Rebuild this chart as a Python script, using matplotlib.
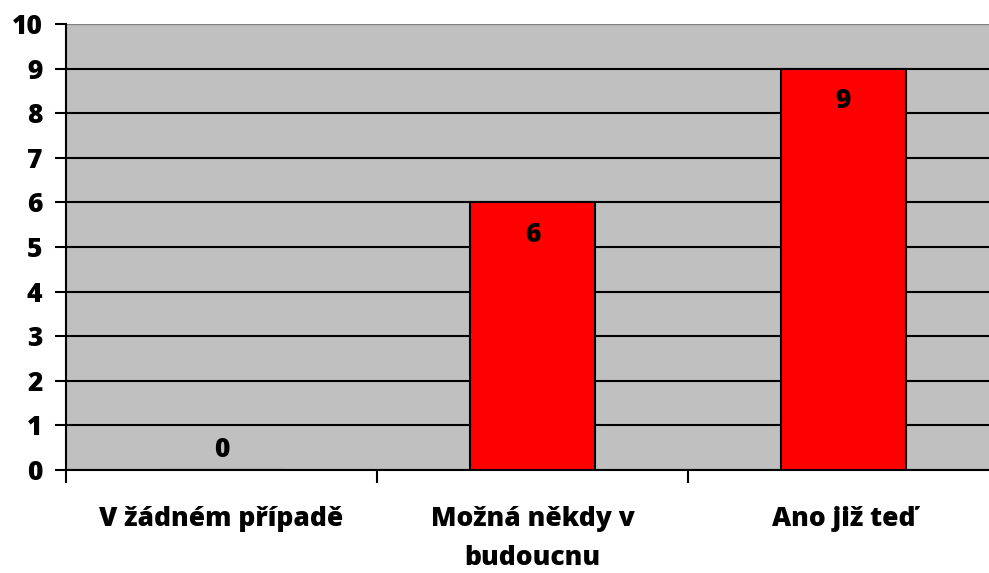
import matplotlib.pyplot as plt
from matplotlib.ticker import FixedLocator

categories = ["V žádném případě", "Možná někdy v\nbudoucnu", "Ano již teď"]
values = [0, 6, 9]
yticks = list(range(0, 11))

plt.rcParams['font.family'] = ['Open Sans', 'DejaVu Sans']
plt.rcParams['font.weight'] = 'heavy'
FS = 19

fig = plt.figure(figsize=(9.89, 5.73), dpi=100)
ax = fig.add_axes([66/989, 1 - 470/573, 923/989, (470 - 24)/573])
ax.set_facecolor('#C0C0C0')

x = list(range(len(categories)))
ax.bar(x, values, width=0.4, color='#FF0000', edgecolor='black', linewidth=1.5, zorder=3)

for xi, v in zip(x, values):
    if v > 0:
        ax.annotate(str(v), (xi, v), xytext=(0, -14), textcoords='offset points',
                    ha='center', va='top', fontsize=FS, fontweight='heavy', zorder=4)
    else:
        ax.annotate(str(v), (xi, v), xytext=(0, 5), textcoords='offset points',
                    ha='center', va='bottom', fontsize=FS, fontweight='heavy', zorder=4)

ax.set_ylim(0, 10)
ax.set_xlim(-0.5, -0.5 + 923/311)
ax.set_yticks(yticks)
ax.set_yticklabels([str(t) for t in yticks], fontsize=FS, fontweight='heavy')
ax.yaxis.grid(True, color='black', linewidth=1.5, zorder=1)
ax.set_axisbelow(True)

# category labels without major tick marks, ticks at boundaries
ax.set_xticks(x)
ax.set_xticklabels(categories, fontsize=FS, fontweight='heavy', linespacing=1.65)
ax.tick_params(axis='x', which='major', length=0, pad=26)
ax.xaxis.set_minor_locator(FixedLocator([-0.5, 0.5, 1.5, 2.5]))
ax.tick_params(axis='x', which='minor', length=9, width=1.5, direction='out')
ax.tick_params(axis='y', length=8, width=1.5, direction='out', pad=9)

for s in ['top', 'right']:
    ax.spines[s].set_visible(False)
ax.spines['left'].set_linewidth(1.5)
ax.spines['bottom'].set_linewidth(1.5)
ax.axhline(10, color='#808080', linewidth=1.5, zorder=2)

fig.savefig("out.png", dpi=100)
